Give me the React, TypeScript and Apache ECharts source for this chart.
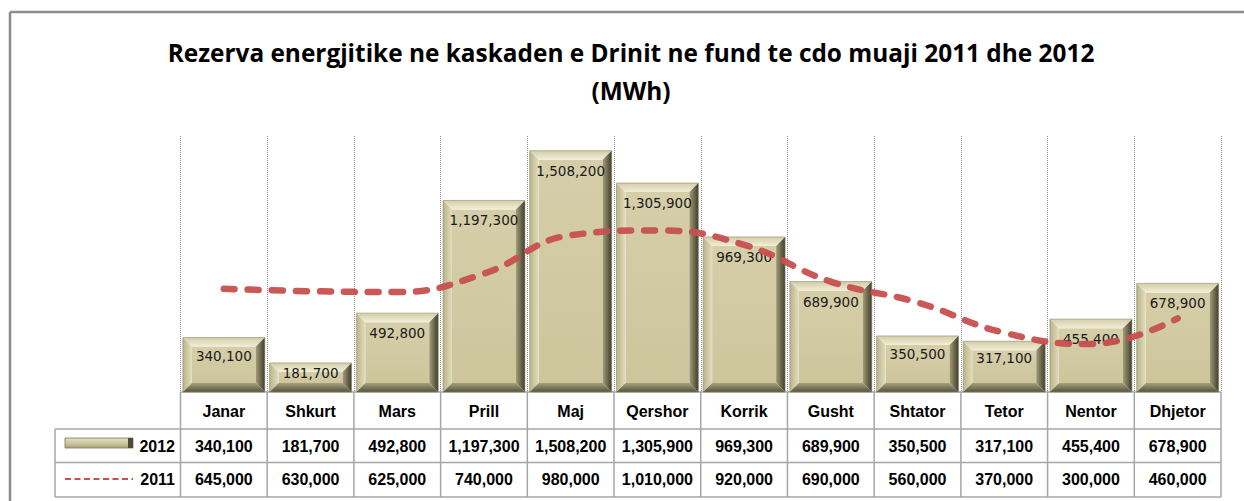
import React, { useEffect, useRef } from 'react';
import * as echarts from 'echarts';

const months = ['Janar', 'Shkurt', 'Mars', 'Prill', 'Maj', 'Qershor', 'Korrik', 'Gusht', 'Shtator', 'Tetor', 'Nentor', 'Dhjetor'];
const values2012 = [340100, 181700, 492800, 1197300, 1508200, 1305900, 969300, 689900, 350500, 317100, 455400, 678900];
const values2011 = [645000, 630000, 625000, 740000, 980000, 1010000, 920000, 690000, 560000, 370000, 300000, 460000];
const seriesNames = ['2012', '2011'];
const titleLines = ['Rezerva energjitike ne kaskaden e Drinit ne fund te cdo muaji 2011 dhe 2012', '(MWh)'];
const yMax = 1600000;

const fmt = (v: number) => v.toLocaleString('en-US');

const W = 1244;
const H = 501;
const GRID_LEFT = 180.5;
const GRID_RIGHT = 1221;
const GRID_TOP = 136;
const GRID_BOTTOM = 392;
const ROW1 = 429;
const ROW2 = 462.5;
const TABLE_BOTTOM = 497;
const LEG_LEFT = 55;
const TABLE_FONT = '"Liberation Sans", Arial, sans-serif';
const TITLE_FONT = 'bold 24.4px "Open Sans", sans-serif';
const LINE_COLOR = '#c74f4e';
const GRID_COLOR = '#a6a6a6';

const lg = (x2: number, y2: number, stops: string[]) =>
  new echarts.graphic.LinearGradient(0, 0, x2, y2, stops.map((c, i) => ({ offset: i / (stops.length - 1), color: c })));

function renderBar(params: any, api: any) {
  const idx = api.value(0);
  const v = api.value(1);
  const top = api.coord([idx, v]);
  const base = api.coord([idx, 0]);
  const bw = api.size([1, 0])[0] * 0.945;
  const x0 = top[0] - bw / 2;
  const x1 = top[0] + bw / 2;
  const y0 = top[1];
  const y1 = base[1];
  const h = y1 - y0;
  const b = Math.min(9, h / 3, bw / 6);
  const labelY = y0 + Math.min(20, h * 0.33);
  return {
    type: 'group',
    children: [
      {
        type: 'rect',
        shape: { x: x0 + b, y: y0 + b, width: bw - 2 * b, height: h - 2 * b },
        style: { fill: lg(0, 1, ['#d5cea8', '#cdc59c']) },
      },
      {
        type: 'polygon',
        shape: { points: [[x0, y0], [x1, y0], [x1 - b, y0 + b], [x0 + b, y0 + b]] },
        style: { fill: lg(0, 1, ['#d3cda8', '#f2eed6']) },
      },
      {
        type: 'polygon',
        shape: { points: [[x0, y0], [x0 + b, y0 + b], [x0 + b, y1 - b], [x0, y1]] },
        style: { fill: lg(1, 0, ['#bab389', '#e2ddbe']) },
      },
      {
        type: 'polygon',
        shape: { points: [[x1, y0], [x1, y1], [x1 - b, y1 - b], [x1 - b, y0 + b]] },
        style: { fill: lg(1, 0, ['#a39d78', '#403d2c']) },
      },
      {
        type: 'polygon',
        shape: { points: [[x0, y1], [x1, y1], [x1 - b, y1 - b], [x0 + b, y1 - b]] },
        style: { fill: lg(0, 1, ['#a6a07b', '#57533d']) },
      },
      {
        type: 'rect',
        shape: { x: x0, y: y0, width: bw, height: h },
        style: { fill: 'none', stroke: '#8d886c', lineWidth: 0.6 },
      },
      {
        type: 'text',
        style: {
          text: fmt(v),
          x: top[0],
          y: labelY,
          align: 'center',
          verticalAlign: 'middle',
          font: '13.5px "DejaVu Sans", sans-serif',
          fill: '#1a1a1a',
        },
      },
    ],
  };
}

export default function App() {
  const ref = useRef<HTMLDivElement>(null);
  useEffect(() => {
    document.body.style.margin = '0';
    if (!ref.current) return;
    const chart = echarts.init(ref.current, null, { renderer: 'svg' });

    const colW = (GRID_RIGHT - GRID_LEFT) / months.length;
    const tableLines: any[] = [];
    const hl = (xa: number, xb: number, y: number) =>
      tableLines.push({ type: 'line', shape: { x1: xa, y1: y, x2: xb, y2: y }, style: { stroke: GRID_COLOR, lineWidth: 1.5 } });
    const vl = (x: number, ya: number, yb: number) =>
      tableLines.push({ type: 'line', shape: { x1: x, y1: ya, x2: x, y2: yb }, style: { stroke: GRID_COLOR, lineWidth: 1.5 } });
    hl(GRID_LEFT, GRID_RIGHT, GRID_BOTTOM);
    hl(LEG_LEFT, GRID_RIGHT, ROW1);
    hl(LEG_LEFT, GRID_RIGHT, ROW2);
    hl(LEG_LEFT, GRID_RIGHT, TABLE_BOTTOM);
    vl(LEG_LEFT, ROW1, TABLE_BOTTOM);
    for (let i = 0; i <= months.length; i++) vl(GRID_LEFT + i * colW, GRID_BOTTOM, TABLE_BOTTOM);

    const tableLabel = (margin: number) => ({
      show: true,
      interval: 0,
      margin,
      verticalAlign: 'middle',
      fontFamily: TABLE_FONT,
      fontWeight: 'bold',
      fontSize: 16,
      color: '#000',
    });

    chart.setOption({
      animation: false,
      grid: { left: GRID_LEFT, right: W - GRID_RIGHT, top: GRID_TOP, bottom: H - GRID_BOTTOM, containLabel: false },
      xAxis: [
        {
          type: 'category',
          data: months,
          boundaryGap: true,
          position: 'bottom',
          axisLine: { show: false },
          axisTick: { show: false },
          axisLabel: tableLabel(19),
          splitLine: { show: true, lineStyle: { type: 'dotted', color: '#8f8f8f', width: 1 } },
        },
        {
          type: 'category',
          data: values2012.map(fmt),
          boundaryGap: true,
          position: 'bottom',
          axisLine: { show: false },
          axisTick: { show: false },
          axisLabel: tableLabel(54),
          splitLine: { show: false },
        },
        {
          type: 'category',
          data: values2011.map(fmt),
          boundaryGap: true,
          position: 'bottom',
          axisLine: { show: false },
          axisTick: { show: false },
          axisLabel: tableLabel(87),
          splitLine: { show: false },
        },
      ],
      yAxis: { type: 'value', min: 0, max: yMax, show: false, splitLine: { show: false } },
      series: [
        {
          name: seriesNames[0],
          type: 'custom',
          xAxisIndex: 0,
          renderItem: renderBar,
          data: values2012.map((v, i) => [i, v]),
          z: 2,
        },
        {
          name: seriesNames[1],
          type: 'line',
          xAxisIndex: 0,
          data: values2011,
          smooth: 0.45,
          symbol: 'none',
          lineStyle: { color: LINE_COLOR, width: 6.5, type: [11, 13], cap: 'round', opacity: 0.95 },
          z: 3,
        },
      ],
      graphic: [
        { type: 'line', shape: { x1: 10, y1: 12, x2: W, y2: 12 }, style: { stroke: '#8c8c8c', lineWidth: 2.5 } },
        { type: 'line', shape: { x1: 10, y1: 12, x2: 10, y2: H }, style: { stroke: '#8c8c8c', lineWidth: 2.5 } },
        {
          type: 'text',
          style: { text: titleLines[0], x: 631, y: 52, align: 'center', verticalAlign: 'middle', font: TITLE_FONT, fill: '#000' },
        },
        {
          type: 'text',
          style: { text: titleLines[1], x: 631, y: 90, align: 'center', verticalAlign: 'middle', font: TITLE_FONT, fill: '#000' },
        },
        ...tableLines,
        {
          type: 'rect',
          shape: { x: 65, y: 438, width: 68, height: 10 },
          style: { fill: lg(0, 1, ['#e4dfbf', '#cfc8a0', '#a9a37e']), stroke: '#7a765c', lineWidth: 0.8 },
        },
        {
          type: 'polygon',
          shape: { points: [[128, 438], [133, 438], [133, 448], [128, 448]] },
          style: { fill: '#4e4b37' },
        },
        {
          type: 'text',
          style: { text: seriesNames[0], x: 175, y: 446, align: 'right', verticalAlign: 'middle', font: `bold 16px ${TABLE_FONT}`, fill: '#000' },
        },
        {
          type: 'line',
          shape: { x1: 65, y1: 479, x2: 133, y2: 479 },
          style: { stroke: LINE_COLOR, lineWidth: 2, lineDash: [6, 3.5] },
        },
        {
          type: 'text',
          style: { text: seriesNames[1], x: 175, y: 479, align: 'right', verticalAlign: 'middle', font: `bold 16px ${TABLE_FONT}`, fill: '#000' },
        },
      ],
    });
    return () => chart.dispose();
  }, []);
  return <div ref={ref} style={{ width: W, height: H }} />;
}
